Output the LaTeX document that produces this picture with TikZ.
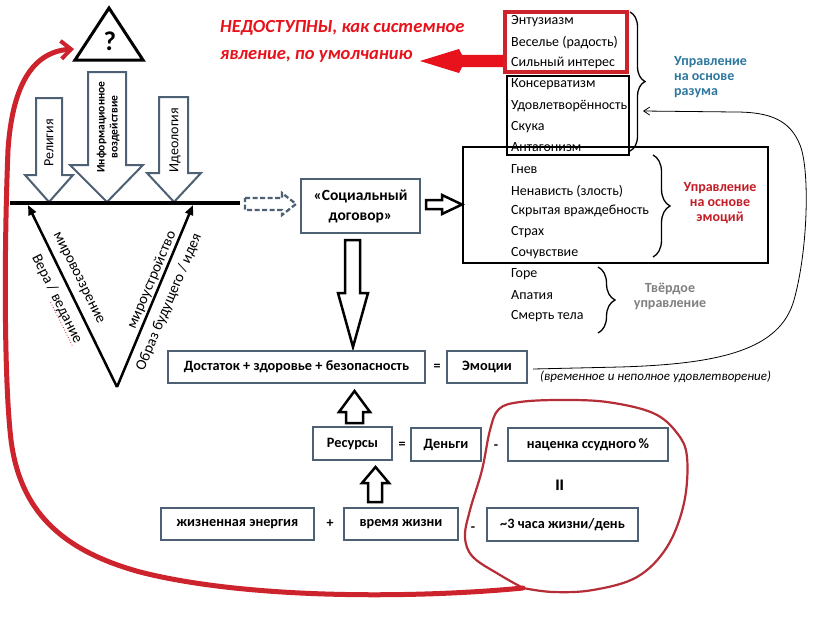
\documentclass[tikz,border=0pt]{standalone}
\usepackage{fontspec}
\setmainfont{Carlito}
\usetikzlibrary{arrows.meta,decorations.pathreplacing,calc}
\definecolor{boxc}{RGB}{78,96,115}
\definecolor{redA}{RGB}{232,18,28}
\definecolor{redL}{RGB}{205,35,45}
\definecolor{loopc}{RGB}{180,45,55}
\definecolor{blueL}{RGB}{46,120,160}
\definecolor{redE}{RGB}{195,30,40}
\definecolor{grayL}{RGB}{128,128,128}
\tikzset{
  fbox/.style={draw=boxc, line width=2pt, fill=white, inner sep=0pt,
    font=\bfseries\fontsize{14.3}{16}\selectfont},
  listtxt/.style={anchor=west, inner sep=0pt, font=\fontsize{14}{16}\selectfont},
  optxt/.style={anchor=base, inner sep=0pt, font=\bfseries\fontsize{14}{14}\selectfont},
  garrow/.style={draw=boxc, line width=2pt, fill=white, line join=miter},
  barrow/.style={draw=black, line width=2.5pt, fill=white, line join=miter},
  vlabel/.style={inner sep=0.5pt, font=\fontsize{15}{15}\selectfont},
  sidelab/.style={inner sep=0pt, font=\bfseries\fontsize{14}{15}\selectfont},
  bracedeco/.style={decorate, decoration={brace, amplitude=#1}, line width=1.3pt},
}
\begin{document}
\begin{tikzpicture}[x=1pt,y=-1pt]
\useasboundingbox (0,0) rectangle (818,618);
\fill[white] (0,0) rectangle (818,618);

% ---------- top triangle ----------
\draw[line width=3pt, line join=miter] (75,60) -- (109,8) -- (143,60) -- cycle;
\node[inner sep=0pt, font=\bfseries\fontsize{27}{27}\selectfont] (q) at (110,41) {?};

% ---------- red title and arrow ----------
\node[anchor=west, align=left, inner sep=0pt, text=redA,
  font=\bfseries\itshape\fontsize{18.5}{27}\selectfont] (title) at (220,41) {НЕДОСТУПНЫ, как системное\\явление, по умолчанию};
\fill[redA] (506,55) -- (462,55) -- (459,49) -- (420,61) -- (459,73) -- (462,67) -- (506,67) -- cycle;

% ---------- top-right list ----------
\draw[redL, line width=4pt] (505,12) rectangle (627,72);
\draw[line width=1.2pt] (507,76) rectangle (629,155);
\node[listtxt] (e1) at (511,21) {Энтузиазм};
\node[listtxt] (e2) at (511,43) {Веселье (радость)};
\node[listtxt] (e3) at (511,63) {Сильный интерес};
\node[listtxt] (k1) at (511,84) {Консерватизм};
\node[listtxt] (k2) at (511,106) {Удовлетворённость};
\node[listtxt] (k3) at (511,127) {Скука};
\node[listtxt] (k4) at (511,147) {Антагонизм};
\draw[bracedeco=15pt] (630,12) -- (630,151);
\node[sidelab, anchor=west, align=left, text=blueL] (razum) at (674,77) {Управление\\на основе\\разума};

% ---------- middle list ----------
\draw[line width=1.2pt] (463,147) rectangle (768,263);
\node[listtxt] (g1) at (511,169) {Гнев};
\node[listtxt] (g2) at (511,191) {Ненависть (злость)};
\node[listtxt] (g3) at (511,211) {Скрытая враждебность};
\node[listtxt] (g4) at (511,232) {Страх};
\node[listtxt] (g5) at (511,253) {Сочувствие};
\draw[bracedeco=17pt] (653,155) -- (653,257);
\node[sidelab, align=center, text=redE] (emoc) at (720,203) {Управление\\на основе\\эмоций};

\node[listtxt] (h1) at (511,274) {Горе};
\node[listtxt] (h2) at (511,295) {Апатия};
\node[listtxt] (h3) at (511,316) {Смерть тела};
\draw[bracedeco=17pt] (598,267) -- (598,333);
\node[sidelab, align=center, text=grayL] (tverd) at (670,296) {Твёрдое\\управление};

% ---------- left influences ----------
\draw[garrow] (36,98) -- (62,98) -- (62,175) -- (73,175) -- (49,202) -- (25,175) -- (36,175) -- cycle;
\draw[garrow] (88,72) -- (126,72) -- (126,165) -- (143,165) -- (107,202) -- (70,165) -- (88,165) -- cycle;
\draw[garrow] (159,97) -- (188,97) -- (188,173) -- (201,173) -- (174,202) -- (147,173) -- (159,173) -- cycle;
\node[rotate=90, inner sep=0pt, font=\fontsize{14}{14}\selectfont] (rel) at (49,143) {Религия};
\node[rotate=90, inner sep=0pt, align=center, font=\bfseries\fontsize{11.5}{13}\selectfont] (info) at (108,127) {Информационное\\воздействие};
\node[rotate=90, inner sep=0pt, font=\fontsize{14}{14}\selectfont] (ideo) at (175,140) {Идеология};

\draw[line width=4pt] (10,203) -- (240,203);
\coordinate (vb) at (117,387);
\coordinate (vl) at (28,205);
\coordinate (vr) at (193,205);
\draw[line width=2.5pt, -{Triangle[length=10pt,width=8pt]}] (vb) -- (vl);
\draw[line width=2.5pt, -{Triangle[length=10pt,width=8pt]}] (vb) -- (vr);
\node[vlabel, rotate=-63.5] (mv) at (78,278) {мировоззрение};
\node[vlabel, rotate=-63.5] (vera) at (57,299) {Вера / ведание};
\draw[redL, line width=0.8pt, dotted] ($(vera.south west)!0.5!(vera.south east)$) -- (vera.south east);
\node[vlabel, rotate=67] (mu) at (152,280) {мироустройство};
\node[vlabel, rotate=67] (obr) at (169,302) {Образ будущего / идея};

% dashed arrow
\draw[boxc, line width=2.3pt, dash pattern=on 5pt off 2.5pt] (245,198) -- (282,198) -- (282,193) -- (296,204) -- (282,215) -- (282,210) -- (245,210) -- cycle;

% ---------- social contract ----------
\node[fbox, minimum width=119pt, minimum height=54pt, align=center, line width=2.5pt,
  font=\bfseries\fontsize{15.5}{20}\selectfont] (soc) at (360.5,206) {«Социальный\\договор»};
\draw[barrow] (426,200) -- (442,200) -- (442,195) -- (462,204.5) -- (442,214) -- (442,209) -- (426,209) -- cycle;
\draw[barrow] (345,240) -- (360,240) -- (360,293) -- (368,293) -- (353,347) -- (338,293) -- (345,293) -- cycle;

% ---------- equation rows ----------
\node[fbox, minimum width=257pt, minimum height=32pt] (dost) at (296.5,367) {Достаток + здоровье + безопасность};
\node[optxt] (eq1) at (437,370.6) {=};
\node[fbox, minimum width=80pt, minimum height=32pt] (emo) at (487,367) {Эмоции};
\node[anchor=west, inner sep=0pt, font=\itshape\fontsize{13}{13}\selectfont] (note) at (540,377) {(временное и неполное удовлетворение)};

\draw[barrow] (346,423) -- (363,423) -- (363,412) -- (370,412) -- (354.5,391) -- (339,412) -- (346,412) -- cycle;

\node[fbox, minimum width=79pt, minimum height=33pt] (res) at (352.5,443.5) {Ресурсы};
\node[optxt] (eq2) at (402,448.6) {=};
\node[fbox, minimum width=70pt, minimum height=33pt] (den) at (446,444.5) {Деньги};
\node[optxt] (mi1) at (496,449.5) {-};
\node[fbox, minimum width=160pt, minimum height=33pt] (nac) at (588,444.5) {наценка ссудного\,\%};
\node[inner sep=0pt, rotate=90, font=\bfseries\fontsize{25}{25}\selectfont] (eq3) at (562,485) {=};

\draw[barrow] (368,502) -- (382,502) -- (382,483) -- (389,483) -- (375.5,467) -- (362,483) -- (368,483) -- cycle;

\node[fbox, minimum width=153pt, minimum height=32pt] (zhe) at (237.5,524) {жизненная энергия};
\node[optxt] (pl) at (330,527.6) {+};
\node[fbox, minimum width=114pt, minimum height=32pt] (vrem) at (401,524) {время жизни};
\node[optxt] (mi2) at (473,531.5) {-};
\node[fbox, minimum width=151pt, minimum height=33pt] (tri) at (562.5,524.5) {\textasciitilde3 часа жизни/день};

% ---------- thin feedback curve ----------
\coordinate (kin) at (643,111);
\draw[line width=0.8pt, -{Straight Barb[length=6pt,width=8pt]}]
  ($(emo.east)+(5,2)$) -- (620,367) .. controls (720,364) and (780,350) .. (794,300)
  .. controls (808,250) and (810,170) .. (800,145)
  .. controls (790,120) and (770,112) .. (735,112) -- (kin);

% ---------- red loop and big red arrow ----------
\draw[loopc, line width=2.2pt, line join=round] plot[smooth, tension=0.6] coordinates {
  (523,588) (500,575) (473,557) (465,537) (470,510) (482,470) (490,430) (499,409)
  (520,402) (560,400) (607,402) (653,413) (677,433) (687,457) (684,503) (667,547)
  (637,577) (593,590) (553,592) (523,588)};
\coordinate (qin) at (74,49);
\draw[redL, line width=5pt, line cap=round, -{Straight Barb[length=10pt,width=18pt,line width=4pt]}]
  (523,588) .. controls (420,598) and (250,600) .. (140,572)
  .. controls (60,550) and (20,510) .. (11,440)
  .. controls (4,380) and (4,250) .. (8,150)
  .. controls (12,90) and (30,52) .. (qin);
\end{tikzpicture}
\end{document}
